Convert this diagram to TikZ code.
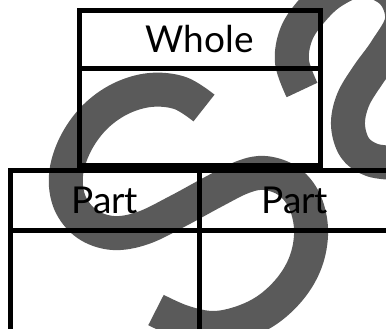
\documentclass[tikz,border=0pt]{standalone}
\usepackage{fontspec}
\setmainfont{Lato}
\definecolor{sgray}{RGB}{90,90,90}
\begin{document}
\begin{tikzpicture}[x=1pt,y=-1pt,
  cell/.style={draw=black, line width=5pt, inner sep=0pt, outer sep=0pt, font=\fontsize{37}{40}\selectfont},
  sstroke/.style={draw=sgray, line width=34pt, line cap=butt, line join=round}]
\useasboundingbox (0,0) rectangle (386,329);
\begin{scope}
\clip (0,0) rectangle (386,329);
% big S watermark (lower)
\draw[sstroke] plot[smooth, tension=0.6] coordinates {
  (204,108) (180,93) (150,90) (120,99) (94,118) (75,145) (66,175) (70,203)
  (87,224) (113,233) (143,228) (178,211) (213,192) (243,177) (265,173)
  (288,181) (304,200) (311,228) (307,258) (293,285) (270,308) (243,322)
  (213,328) (183,322) (156,310)};
% S watermark (upper right)
\draw[sstroke] plot[smooth, tension=0.6] coordinates {
  (302,90) (292,62) (296,35) (310,13) (332,-8) (362,-20) (392,-8) (402,20)
  (386,50) (368,75) (353,100) (348,125) (355,148) (372,160) (395,163)};
\end{scope}
% table
\node[cell, minimum width=241.5pt, minimum height=58pt] (wholehead) at (199.75,39.5) {Whole};
\node[cell, minimum width=241.5pt, minimum height=97pt] (wholebody) at (199.75,117) {};
\node[cell, minimum width=189.5pt, minimum height=60pt] (parthead1) at (104.75,200.5) {Part};
\node[cell, minimum width=190.5pt, minimum height=60pt] (parthead2) at (294.75,200.5) {Part};
\node[cell, minimum width=189.5pt, minimum height=169.5pt] (partbody1) at (104.75,315.25) {};
\node[cell, minimum width=190.5pt, minimum height=169.5pt] (partbody2) at (294.75,315.25) {};
\end{tikzpicture}
\end{document}
